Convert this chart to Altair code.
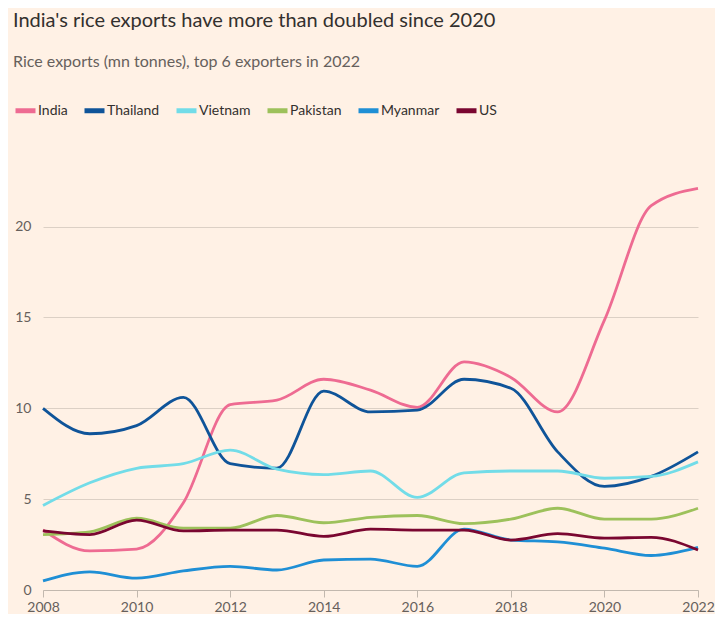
import altair as alt
import pandas as pd

years = list(range(2008, 2023))
countries = ["India", "Thailand", "Vietnam", "Pakistan", "Myanmar", "US"]
colors = ["#ee6b92", "#0f5499", "#72dce8", "#9dc15b", "#1f8fd5", "#7a0630"]

india = [3.3, 2.15, 2.25, 4.8, 10.2, 10.45, 11.6, 11.0, 10.05, 12.55, 11.7, 9.8, 14.85, 21.15, 22.1]
thailand = [10.0, 8.6, 9.05, 10.6, 6.95, 6.7, 10.95, 9.8, 9.9, 11.6, 11.1, 7.6, 5.7, 6.25, 7.6]
vietnam = [4.65, 5.9, 6.7, 6.95, 7.7, 6.65, 6.35, 6.55, 5.1, 6.45, 6.55, 6.55, 6.15, 6.25, 7.05]
pakistan = [3.05, 3.2, 3.95, 3.4, 3.4, 4.1, 3.7, 4.0, 4.1, 3.65, 3.9, 4.5, 3.9, 3.9, 4.5]
myanmar = [0.5, 1.0, 0.65, 1.05, 1.3, 1.1, 1.65, 1.7, 1.3, 3.35, 2.75, 2.65, 2.3, 1.9, 2.35]
us = [3.25, 3.05, 3.85, 3.25, 3.3, 3.3, 2.95, 3.35, 3.3, 3.3, 2.75, 3.1, 2.85, 2.9, 2.2]

series = [india, thailand, vietnam, pakistan, myanmar, us]
rows = []
for name, vals in zip(countries, series):
    for yr, v in zip(years, vals):
        rows.append({"year": yr, "country": name, "value": v})
df = pd.DataFrame(rows)

FONT = "Lato"

chart = alt.Chart(df).mark_line(
    interpolate="monotone", strokeWidth=2.8
).encode(
    x=alt.X("year:Q", scale=alt.Scale(domain=[2008, 2022], nice=False, zero=False),
            axis=alt.Axis(values=list(range(2008, 2023, 2)), format="d", title=None,
                          grid=False, domain=True, domainColor="#c2b8ae", ticks=True,
                          tickColor="#c2b8ae", tickSize=7, labelFontSize=14,
                          labelColor="#66605c", labelPadding=3, labelFont=FONT,
                          labelFlush=False)),
    y=alt.Y("value:Q", scale=alt.Scale(domain=[0, 23.5], nice=False),
            axis=alt.Axis(values=[0, 5, 10, 15, 20], title=None, grid=True,
                          gridColor="#dcd0c5", gridWidth=1, domain=False, ticks=False,
                          labelFontSize=14, labelColor="#66605c", labelPadding=12,
                          labelFont=FONT)),
    color=alt.Color("country:N", scale=alt.Scale(domain=countries, range=colors),
                    sort=countries,
                    legend=alt.Legend(title=None, orient="none", direction="horizontal",
                                      legendX=-30, legendY=-65, symbolType="stroke",
                                      symbolSize=400, symbolStrokeWidth=5,
                                      labelFontSize=14, labelColor="#33302e",
                                      labelFont=FONT, columnPadding=6, labelOffset=0)),
).properties(
    width=655,
    height=427,
    background="#fff1e5",
    padding={"left": 5, "top": 3, "right": 0, "bottom": 0},
    title=alt.Title(
        text="India's rice exports have more than doubled since 2020",
        subtitle="Rice exports (mn tonnes), top 6 exporters in 2022",
        anchor="start", fontSize=20, font=FONT, fontWeight="normal", color="#33302e",
        subtitleFontSize=16, subtitleFont=FONT, subtitleColor="#66605c",
        subtitlePadding=23, offset=28,
    ),
).configure_view(stroke=None)

chart.save("out.html", embed_options={"renderer": "svg", "actions": False})
